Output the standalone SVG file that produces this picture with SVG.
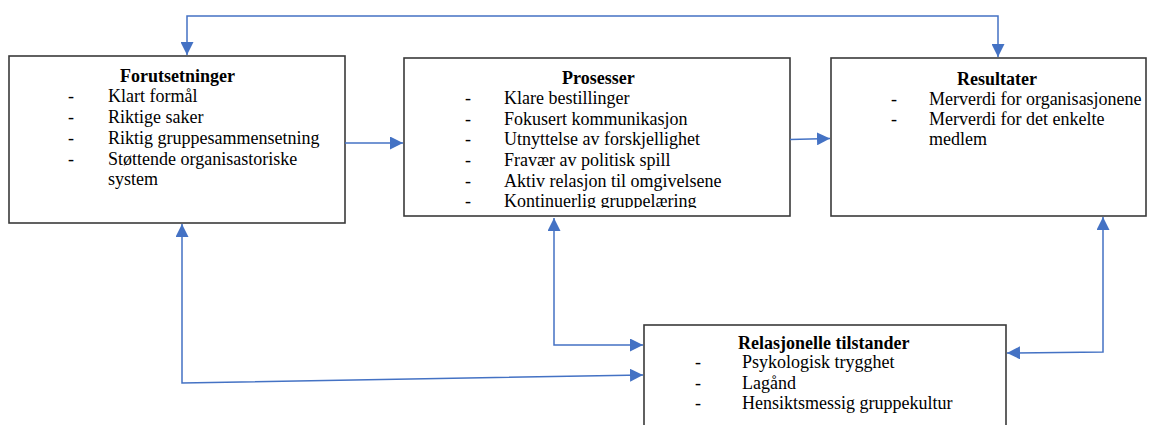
<svg xmlns="http://www.w3.org/2000/svg" width="1149" height="425" viewBox="0 0 1149 425">
<style>
.box{fill:#fff;stroke:#3a3a3a;stroke-width:1.6}
.t{font-family:"Liberation Serif",serif;font-size:18px;fill:#000}
.b{font-weight:bold}
.c{fill:none;stroke:#4472C4;stroke-width:1.5}
</style>
<defs>
<marker id="ah" markerUnits="userSpaceOnUse" markerWidth="14" markerHeight="13" refX="13" refY="6.5" orient="auto-start-reverse" viewBox="0 0 14 13">
<path d="M0,0 L13,6.5 L0,13 z" fill="#4472C4"/>
</marker>
<clipPath id="clip2"><rect x="404" y="58" width="386" height="150"/></clipPath>
</defs>
<rect width="1149" height="425" fill="#fff"/>
<g id="forutsetninger">
<rect class="box" x="9" y="56" width="336" height="167"/>
<text class="t b" x="120" y="82">Forutsetninger</text>
<text class="t" x="68" y="102">-</text><text class="t" x="108" y="102">Klart formål</text>
<text class="t" x="68" y="123">-</text><text class="t" x="108" y="123">Riktige saker</text>
<text class="t" x="68" y="144">-</text><text class="t" x="108" y="144">Riktig gruppesammensetning</text>
<text class="t" x="68" y="165">-</text><text class="t" x="108" y="165">Støttende organisastoriske</text>
<text class="t" x="108" y="185">system</text>
</g>
<g id="prosesser">
<rect class="box" x="404" y="58" width="386" height="158"/>
<g clip-path="url(#clip2)">
<text class="t b" x="562" y="84">Prosesser</text>
<text class="t" x="465" y="104">-</text><text class="t" x="504" y="104">Klare bestillinger</text>
<text class="t" x="465" y="125">-</text><text class="t" x="504" y="125">Fokusert kommunikasjon</text>
<text class="t" x="465" y="145">-</text><text class="t" x="504" y="145">Utnyttelse av forskjellighet</text>
<text class="t" x="465" y="166">-</text><text class="t" x="504" y="166">Fravær av politisk spill</text>
<text class="t" x="465" y="186.5">-</text><text class="t" x="504" y="186.5">Aktiv relasjon til omgivelsene</text>
<text class="t" x="465" y="207">-</text><text class="t" x="504" y="207">Kontinuerlig gruppelæring</text>
</g>
</g>
<g id="resultater">
<rect class="box" x="831" y="58" width="315" height="158"/>
<text class="t b" x="957" y="84.5">Resultater</text>
<text class="t" x="891" y="105">-</text><text class="t" x="929" y="105">Merverdi for organisasjonene</text>
<text class="t" x="891" y="125">-</text><text class="t" x="929" y="125">Merverdi for det enkelte</text>
<text class="t" x="929" y="145">medlem</text>
</g>
<g id="relasjonelle">
<rect class="box" x="644" y="325" width="362" height="110"/>
<text class="t b" x="738" y="349">Relasjonelle tilstander</text>
<text class="t" x="695" y="368">-</text><text class="t" x="742" y="368">Psykologisk trygghet</text>
<text class="t" x="695" y="389">-</text><text class="t" x="742" y="389">Lagånd</text>
<text class="t" x="695" y="409">-</text><text class="t" x="742" y="409">Hensiktsmessig gruppekultur</text>
</g>
<g id="connectors">
<path class="c" d="M187,55 V16 H998 V57" marker-start="url(#ah)" marker-end="url(#ah)"/>
<path class="c" d="M345,143 H403" marker-end="url(#ah)"/>
<path class="c" d="M790,139.5 L830,138.5" marker-end="url(#ah)"/>
<path class="c" d="M182,224 V383 L643,375" marker-start="url(#ah)" marker-end="url(#ah)"/>
<path class="c" d="M554,218 V345 H643" marker-start="url(#ah)" marker-end="url(#ah)"/>
<path class="c" d="M1103,217 V352 L1007,353" marker-start="url(#ah)" marker-end="url(#ah)"/>
</g>
</svg>
